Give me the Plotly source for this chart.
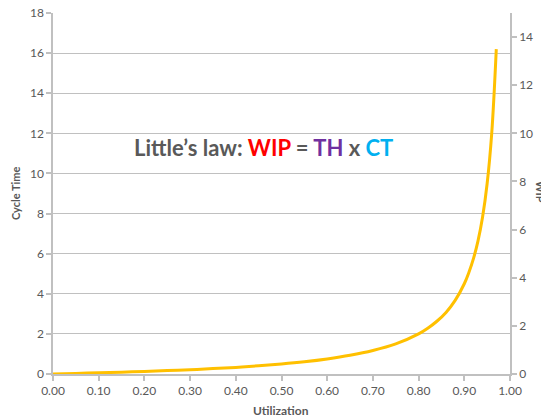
import plotly.graph_objects as go

utilization = [0.00, 0.05, 0.10, 0.15, 0.20, 0.25, 0.30, 0.35, 0.40, 0.45, 0.50,
               0.55, 0.60, 0.65, 0.70, 0.75, 0.80, 0.82, 0.84, 0.86, 0.88, 0.90,
               0.91, 0.92, 0.93, 0.94, 0.95, 0.96, 0.97]
cycle_time = [0.00, 0.03, 0.06, 0.09, 0.13, 0.17, 0.21, 0.27, 0.33, 0.41, 0.50,
              0.61, 0.75, 0.93, 1.17, 1.50, 2.00, 2.28, 2.63, 3.07, 3.67, 4.50,
              5.06, 5.75, 6.64, 7.83, 9.50, 12.00, 16.20]

x_ticks = [0.0, 0.1, 0.2, 0.3, 0.4, 0.5, 0.6, 0.7, 0.8, 0.9, 1.0]
left_ticks = [0, 2, 4, 6, 8, 10, 12, 14, 16, 18]
right_ticks = [0, 2, 4, 6, 8, 10, 12, 14]

GRAY = "#595959"
GRID = "#c0c0c0"
FONT = "Lato, Liberation Sans, sans-serif"

# page offset of the html body (default 8px margin)
OFF = 8
W, H = 549 - OFF, 417 - OFF
L, R, T, B = 53 - OFF, 510 - OFF, 13 - OFF, 374 - OFF   # plot area in figure px


def px_to_paper(px, py):
    fx, fy = px - OFF, py - OFF
    return (fx - L) / (R - L), (B - fy) / (B - T)


fig = go.Figure()
fig.add_trace(go.Scatter(x=utilization, y=cycle_time, mode="lines",
                         line=dict(color="#FFC000", width=3, shape="spline"),
                         showlegend=False, hoverinfo="skip"))
fig.add_trace(go.Scatter(x=[], y=[], yaxis="y2", mode="lines", showlegend=False))

axis_common = dict(showline=True, linecolor=GRID, linewidth=1.5, ticks="outside",
                   tickcolor=GRID, ticklen=5, tickwidth=1.5, automargin=False,
                   ticklabeloverflow="allow",
                   tickfont=dict(family=FONT, size=12, color=GRAY), zeroline=False)

title_x, title_y = px_to_paper(263, 147)
wip_x, wip_y = px_to_paper(541, 192)
util_x, util_y = px_to_paper(281, 410)
ct_x, ct_y = px_to_paper(15, 193)

ann = dict(xref="paper", yref="paper", showarrow=False, xanchor="center", yanchor="middle")

fig.update_layout(
    width=W, height=H,
    margin=dict(l=L, r=W - R, t=T, b=H - B),
    paper_bgcolor="white", plot_bgcolor="white",
    xaxis=dict(range=[0, 1], tickvals=x_ticks, tickformat=".2f", showgrid=False, **axis_common),
    yaxis=dict(range=[0, 18], tickvals=left_ticks, showgrid=True, gridcolor=GRID, gridwidth=1.2,
               **axis_common),
    yaxis2=dict(range=[0, 15], tickvals=right_ticks, overlaying="y", side="right", showgrid=False,
                **axis_common),
    annotations=[
        dict(text="<b>Little’s law: <span style='color:#FF0000'>WIP</span> = "
                  "<span style='color:#7030A0'>TH</span> x "
                  "<span style='color:#00B0F0'>CT</span></b>",
             x=title_x, y=title_y, font=dict(family=FONT, size=22, color=GRAY), **ann),
        dict(text="<b>WIP</b>", x=wip_x, y=wip_y, textangle=90,
             font=dict(family=FONT, size=11, color=GRAY), **ann),
        dict(text="<b>Utilization</b>", x=util_x, y=util_y,
             font=dict(family=FONT, size=12, color=GRAY), **ann),
        dict(text="<b>Cycle Time</b>", x=ct_x, y=ct_y, textangle=-90,
             font=dict(family=FONT, size=11, color=GRAY), **ann),
    ],
)

fig.write_html("out.html")
